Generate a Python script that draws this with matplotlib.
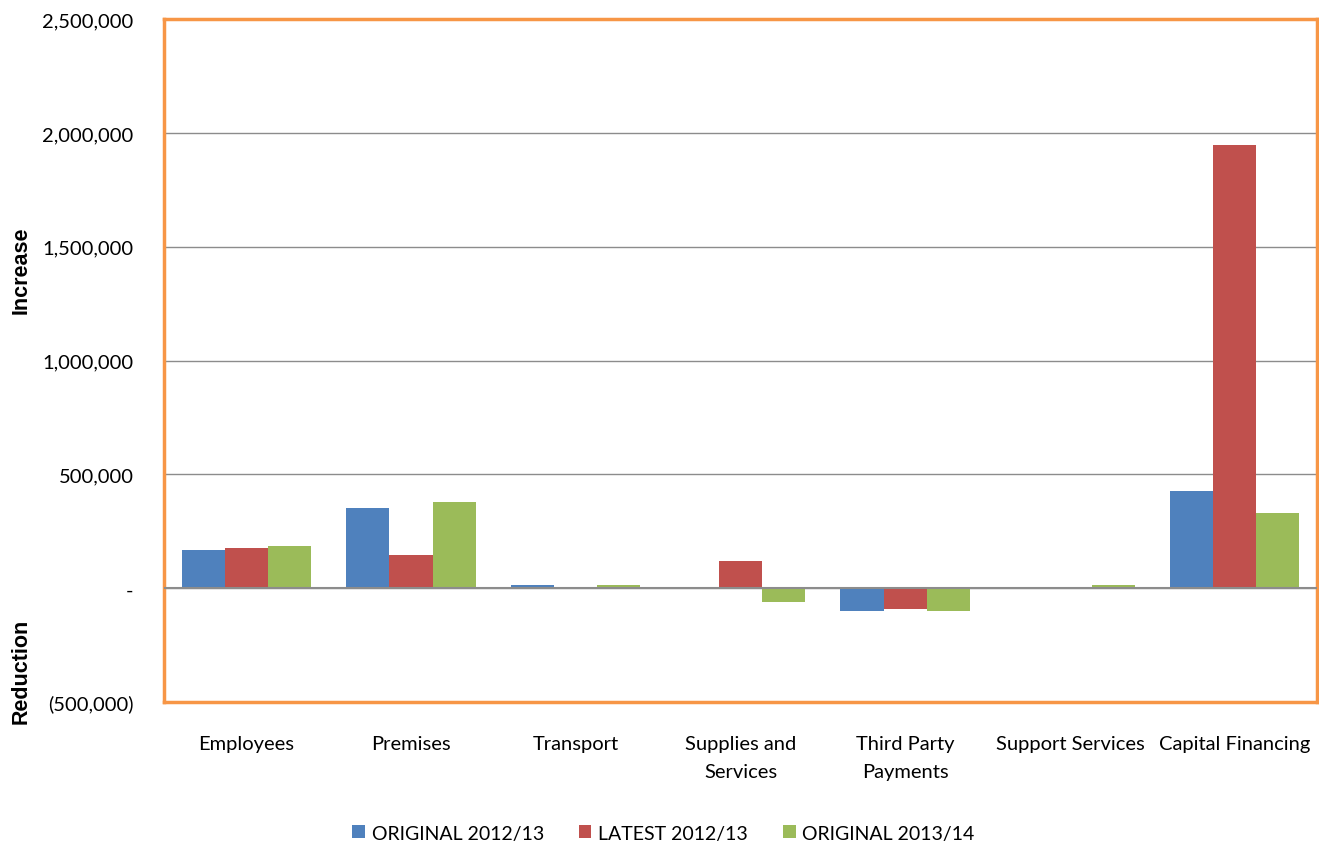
import matplotlib
matplotlib.use('Agg')
import matplotlib.pyplot as plt
import numpy as np
from matplotlib.ticker import FuncFormatter

categories = ['Employees', 'Premises', 'Transport', 'Supplies and\nServices',
              'Third Party\nPayments', 'Support Services', 'Capital Financing']
series_names = ['ORIGINAL 2012/13', 'LATEST 2012/13', 'ORIGINAL 2013/14']
original_1213 = [167000, 351000, 15000, 0, -101000, 0, 426000]
latest_1213 = [176000, 145000, 0, 119000, -92000, 0, 1946000]
original_1314 = [185000, 378000, 13000, -62000, -101000, 13000, 330000]
colors = ['#4F81BD', '#C0504D', '#9BBB59']

plt.rcParams['font.family'] = ['Lato', 'DejaVu Sans']

fig = plt.figure(figsize=(13.19, 8.45), dpi=100)
ax = fig.add_axes([0.1243, 0.168, 0.8742, 0.808])

x = np.arange(len(categories))
w = 0.262
for i, (vals, name) in enumerate(zip([original_1213, latest_1213, original_1314], series_names)):
    ax.bar(x + (i - 1) * w, vals, w, color=colors[i], label=name, zorder=3)

ax.set_xlim(-0.5, len(categories) - 0.5)
ax.set_ylim(-500000, 2500000)
ax.set_yticks(np.arange(-500000, 2500001, 500000))


def fmt(v, pos):
    if v == 0:
        return '-'
    if v < 0:
        return '({:,.0f})'.format(-v)
    return '{:,.0f}'.format(v)


ax.yaxis.set_major_formatter(FuncFormatter(fmt))
ax.yaxis.grid(True, color='#8C8C8C', linewidth=1.0, zorder=0)
ax.axhline(0, color='#8C8C8C', linewidth=1.5, zorder=4)
ax.set_xticks(x)
ax.set_xticklabels(categories, fontsize=14.5)
for lab in ax.get_xticklabels():
    lab.set_linespacing(1.75)
ax.tick_params(axis='both', length=0, labelsize=14.5, colors='black')
ax.tick_params(axis='y', pad=22)
ax.tick_params(axis='x', pad=24)
for s in ax.spines.values():
    s.set_color('#F79646')
    s.set_linewidth(2.5)

fig.text(0.016, 0.68, 'Increase', rotation=90, ha='center', va='center',
         fontsize=15.5, fontweight='bold', family='Liberation Sans')
fig.text(0.016, 0.205, 'Reduction', rotation=90, ha='center', va='center',
         fontsize=15.5, fontweight='bold', family='Liberation Sans')

fig.legend(loc='center', bbox_to_anchor=(0.503, 0.013), ncol=3, frameon=False,
           fontsize=14, handlelength=0.65, handleheight=0.65, handletextpad=0.35,
           columnspacing=1.8)

fig.savefig('out.png', dpi=100)
